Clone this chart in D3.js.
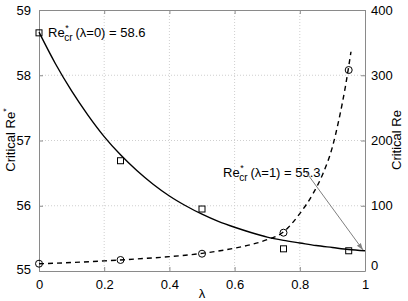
<!DOCTYPE html>
<html><head><meta charset="utf-8">
<script src="https://cdn.jsdelivr.net/npm/d3@7"></script>
<style>
html,body{margin:0;padding:0;background:#fff;}
svg{display:block;font-family:"Liberation Sans",Arial,Helvetica,sans-serif;}
</style></head>
<body>
<svg id="c" width="408" height="301"></svg>
<script>
// ---- data ----
const lambdaMarkers = [0, 0.25, 0.5, 0.75, 0.95];
const reStarMarkers = [58.65, 56.69, 55.95, 55.34, 55.31];   // squares, left axis
const reMarkers     = [11.2, 16.9, 26.5, 58.7, 308];          // circles, right axis

const lambdaSolid = [0,0.05,0.1,0.15,0.2,0.25,0.3,0.35,0.4,0.45,0.5,0.55,0.6,0.65,0.7,0.75,0.8,0.85,0.9,0.95,1.0];
const reStarCurve = [58.66,58.18,57.76,57.39,57.06,56.78,56.54,56.33,56.15,56.00,55.87,55.76,55.67,55.59,55.52,55.47,55.43,55.39,55.36,55.33,55.31];

const lambdaDashed = [0,0.1,0.2,0.3,0.4,0.5,0.6,0.65,0.7,0.75,0.8,0.84,0.87,0.9,0.92,0.94,0.957];
const reCurve      = [11,13,15.5,18.5,22,27,35,40.5,48,60,88,118,148,190,232,283,336];

const xTicks = [0,0.2,0.4,0.6,0.8,1];
const xTickLabels = ["0","0.2","0.4","0.6","0.8","1"];
const yLeftTicks = [55,56,57,58,59];
const yRightTicks = [0,100,200,300,400];

// ---- layout ----
const svg = d3.select("#c");
const L = 39, R = 365, T = 10, B = 271;
const x = d3.scaleLinear().domain([0,1]).range([L,R]);
const yL = d3.scaleLinear().domain([55,59]).range([B,T]);
const yR = d3.scaleLinear().domain([0,400]).range([B,T]);
const axisCol = "#8a8a8a";
const fs = 13;

// grid
const g = svg.append("g");
g.selectAll("line.gx").data(xTicks.slice(1,-1)).join("line")
  .attr("x1",d=>x(d)).attr("x2",d=>x(d)).attr("y1",T).attr("y2",B)
  .attr("stroke","#cfcfcf").attr("stroke-width",1).attr("stroke-dasharray","1,2");
g.selectAll("line.gy").data(yLeftTicks.slice(1,-1)).join("line")
  .attr("x1",L).attr("x2",R).attr("y1",d=>yL(d)).attr("y2",d=>yL(d))
  .attr("stroke","#cfcfcf").attr("stroke-width",1).attr("stroke-dasharray","1,2");

// axes via d3 axis generators (inward ticks)
function styleAxis(sel){
  sel.select(".domain").attr("stroke",axisCol);
  sel.selectAll(".tick line").attr("stroke",axisCol);
  sel.selectAll(".tick text").attr("fill","#000").attr("font-size",fs)
     .attr("font-family","Liberation Sans, Arial, sans-serif");
}
const xAxis = svg.append("g").attr("transform",`translate(0,${B})`)
  .call(d3.axisBottom(x).tickValues(xTicks).tickFormat((d,i)=>xTickLabels[i]).tickSizeInner(-4).tickSizeOuter(0).tickPadding(9));
styleAxis(xAxis);
const xTop = svg.append("g").attr("transform",`translate(0,${T})`)
  .call(d3.axisTop(x).tickValues(xTicks).tickFormat("").tickSizeInner(-4).tickSizeOuter(0));
styleAxis(xTop);
const yAxisL = svg.append("g").attr("transform",`translate(${L},0)`)
  .call(d3.axisLeft(yL).tickValues(yLeftTicks).tickFormat(d3.format("d")).tickSizeInner(-4).tickSizeOuter(0).tickPadding(8));
styleAxis(yAxisL);
const yAxisR = svg.append("g").attr("transform",`translate(${R},0)`)
  .call(d3.axisRight(yR).tickValues(yRightTicks).tickFormat(d3.format("d")).tickSizeInner(-4).tickSizeOuter(0).tickPadding(6));
styleAxis(yAxisR);
// nudge the corner labels like the reference
yAxisL.selectAll(".tick text").filter(d=>d===55).attr("dy","0.2em");
yAxisR.selectAll(".tick text").filter(d=>d===0).attr("dy","-0.1em");

// axis titles
svg.append("text").attr("x",202).attr("y",298).attr("text-anchor","middle")
  .attr("font-size",13).text("λ");
const lt = svg.append("text").attr("transform","translate(15,140) rotate(-90)")
  .attr("text-anchor","middle").attr("font-size",13);
lt.append("tspan").text("Critical Re");
lt.append("tspan").attr("font-size",9).attr("dy",-6).text("*");
svg.append("text").attr("transform","translate(401,140) rotate(-90)")
  .attr("text-anchor","middle").attr("font-size",13).text("Critical Re");

// curves
const plot = svg.append("g");
const solidData = lambdaSolid.map((l,i)=>[l,reStarCurve[i]]);
const dashData = lambdaDashed.map((l,i)=>[l,reCurve[i]]);
plot.append("path").datum(solidData)
  .attr("d",d3.line().x(d=>x(d[0])).y(d=>yL(d[1])).curve(d3.curveMonotoneX))
  .attr("fill","none").attr("stroke","#000").attr("stroke-width",1.4);
plot.append("path").datum(dashData)
  .attr("d",d3.line().x(d=>x(d[0])).y(d=>yR(d[1])).curve(d3.curveMonotoneX))
  .attr("fill","none").attr("stroke","#000").attr("stroke-width",1.4).attr("stroke-dasharray","5,4");

// markers
const sq = 6;
plot.selectAll("rect.sq").data(lambdaMarkers.map((l,i)=>[l,reStarMarkers[i]])).join("rect")
  .attr("x",d=>x(d[0])-sq/2).attr("y",d=>yL(d[1])-sq/2).attr("width",sq).attr("height",sq)
  .attr("fill","none").attr("stroke","#000").attr("stroke-width",1);
plot.selectAll("circle.ci").data(lambdaMarkers.map((l,i)=>[l,reMarkers[i]])).join("circle")
  .attr("cx",d=>x(d[0])).attr("cy",d=>yR(d[1])).attr("r",3.5)
  .attr("fill","none").attr("stroke","#000").attr("stroke-width",1);

// annotations
function reLabel(x0, base, rest){
  const t1 = svg.append("text").attr("x",x0).attr("y",base).attr("font-size",13).text("Re");
  const w = t1.node().getComputedTextLength();
  svg.append("text").attr("x",x0+w+0.5).attr("y",base-6).attr("font-size",9).text("*");
  const t2 = svg.append("text").attr("x",x0+w-0.5).attr("y",base+4).attr("font-size",10).text("cr");
  const w2 = t2.node().getComputedTextLength();
  svg.append("text").attr("x",x0+w+w2+2.5).attr("y",base).attr("font-size",13).text(rest);
}
reLabel(48, 37, "(λ=0) = 58.6");
reLabel(223, 177, "(λ=1) = 55.3");

// arrow
svg.append("defs").append("marker").attr("id","ah").attr("viewBox","0 0 10 10")
  .attr("refX",10).attr("refY",5).attr("markerWidth",7).attr("markerHeight",7)
  .attr("orient","auto").append("path").attr("d","M0,1.5 L10,5 L0,8.5 z").attr("fill","#808080");
svg.append("line").attr("x1",306).attr("y1",172).attr("x2",363).attr("y2",250)
  .attr("stroke","#808080").attr("stroke-width",1).attr("marker-end","url(#ah)");
</script>
</body></html>
